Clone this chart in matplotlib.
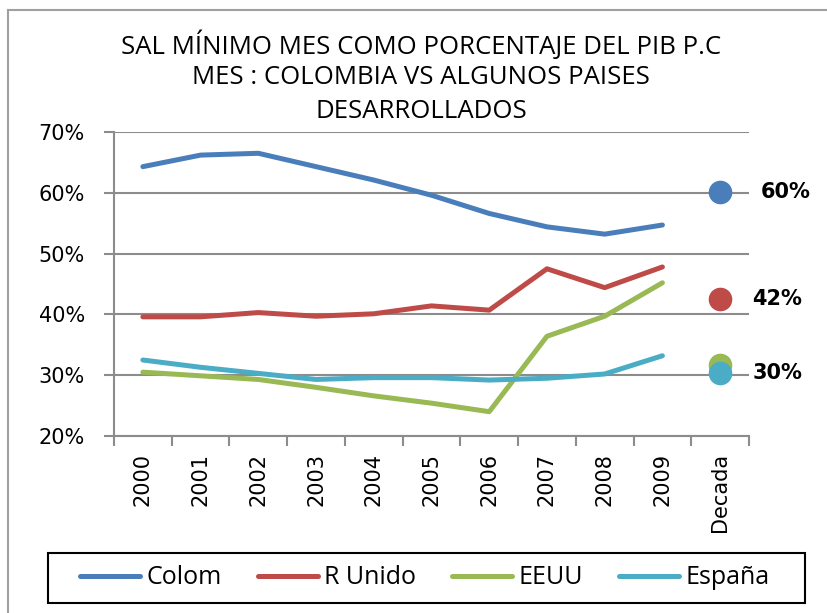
import numpy as np
import matplotlib.pyplot as plt
from matplotlib.lines import Line2D
from matplotlib.patches import Rectangle

# data (percent)
years = ['2000', '2001', '2002', '2003', '2004', '2005', '2006', '2007', '2008', '2009', 'Decada']
colom = [64.3, 66.2, 66.5, 64.3, 62.1, 59.6, 56.6, 54.4, 53.2, 54.7]
r_unido = [39.6, 39.6, 40.3, 39.7, 40.1, 41.4, 40.7, 47.5, 44.4, 47.8]
eeuu = [30.5, 29.9, 29.3, 28.0, 26.6, 25.4, 24.0, 36.4, 39.7, 45.2]
espana = [32.5, 31.3, 30.3, 29.3, 29.6, 29.6, 29.2, 29.5, 30.2, 33.2]
decada = [60.2, 42.5, 31.6, 30.3]
decada_labels = ['60%', '42%', None, '30%']
names = ['Colom', 'R Unido', 'EEUU', 'España']
colors = ['#4A7EBB', '#BE4B48', '#98B954', '#4BACC6']

grid_c = '#8C8C8C'

fig = plt.figure(figsize=(8.27, 6.13), dpi=100)
ax = fig.add_axes([114/827, 1-436/613, 635/827, 304/613])

x = np.arange(10)
for vals, c, n in zip([colom, r_unido, eeuu, espana], colors, names):
    ax.plot(x, vals, color=c, lw=3.6, solid_capstyle='round', label=n)

# decade averages as dots in the last category
for v, c in zip(decada, colors):
    ax.plot(10, v, marker='o', ms=16, color=c, mec=c, ls='none')
for v, lab in zip(decada, decada_labels):
    if lab is None:
        continue
    dx = 29 if lab == '60%' else 23
    ax.annotate(lab, (10, v), xytext=(dx, 0), textcoords='offset points',
                va='center', ha='left', fontsize=15, fontweight='bold',
                family='DejaVu Sans', color='#000000')

ax.set_xlim(-0.5, 10.5)
ax.set_ylim(20, 70)
ax.set_yticks(np.arange(20, 71, 10))
ax.set_yticklabels([f'{v}%' for v in range(20, 71, 10)], fontsize=15, family='DejaVu Sans')
ax.set_xticks(np.arange(11))
ax.set_xticklabels(years, rotation=90, fontsize=15, family='DejaVu Sans')
ax.set_xticks(np.arange(-0.5, 11, 1), minor=True)
ax.tick_params(axis='x', which='major', length=0, pad=12)
ax.tick_params(axis='x', which='minor', length=7, width=1.5, color=grid_c, direction='out')
ax.tick_params(axis='y', length=7, width=1.5, color=grid_c, direction='out', pad=14)

ax.yaxis.grid(True, color=grid_c, lw=1.5)
ax.set_axisbelow(True)
for s in ['top', 'right']:
    ax.spines[s].set_visible(False)
for s in ['left', 'bottom']:
    ax.spines[s].set_color(grid_c)
    ax.spines[s].set_linewidth(1.5)

title = ['SAL MÍNIMO MES COMO PORCENTAJE DEL PIB P.C',
         'MES : COLOMBIA VS ALGUNOS PAISES',
         'DESARROLLADOS']
for i, t in enumerate(title):
    fig.text(421/827, 1-(45+33*i)/613, t, ha='center', va='center',
             fontsize=18.5, family='Open Sans')

leg = fig.legend(loc='center left', ncol=4, bbox_to_anchor=(80/827, 1-578/613),
                 frameon=False, prop={'family': 'Open Sans', 'size': 18},
                 handlelength=2.4, handletextpad=0.25, columnspacing=1.45,
                 borderaxespad=0, borderpad=0)
for h in leg.get_lines():
    h.set_linewidth(3.6)
fig.add_artist(Rectangle((48/827, 1-603/613), 757/827, 50/613, transform=fig.transFigure,
                         fill=False, edgecolor='black', lw=1.5))

# outer chart border (left and top edges visible in the screenshot)
fig.add_artist(Line2D([8/827, 8/827], [0, 1-10/613], color='#A0A0A0', lw=1.5))
fig.add_artist(Line2D([8/827, 1], [1-10/613, 1-10/613], color='#A0A0A0', lw=1.5))

fig.savefig('out.png', dpi=100)
